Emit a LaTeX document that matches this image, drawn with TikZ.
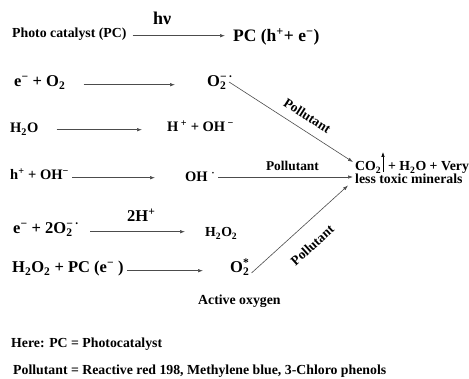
\documentclass[tikz,border=0pt]{standalone}
\usepackage{fontspec}
\setmainfont{Liberation Serif}
\usetikzlibrary{arrows.meta,calc}
\newcommand\fsS{\fontsize{13.8}{14}\selectfont\bfseries}
\newcommand\fsM{\fontsize{14.5}{15}\selectfont\bfseries}
\newcommand\fsL{\fontsize{16.5}{17}\selectfont\bfseries}
\newcommand\fsPC{\fontsize{17.5}{18}\selectfont\bfseries}
\newcommand\fsH{\fontsize{18}{19}\selectfont\bfseries}
\newcommand\fsP{\fontsize{13.4}{14}\selectfont\bfseries}
\newcommand\subsup[2]{\makebox[0pt][l]{\textsubscript{#1}}\textsuperscript{#2}}
\newcommand\upar{\tikz[baseline=0pt]\draw[line width=0.6pt,-{Latex[length=5pt,width=3.5pt]}] (0pt,-1pt) -- (0pt,19pt);}
\begin{document}
\begin{tikzpicture}[x=1pt,y=-1pt,
  txt/.style={inner sep=0pt, anchor=base west, text=black},
  arr/.style={draw=black!70, line width=0.6pt, -{Latex[length=5pt,width=3.5pt]}},
  lbl/.style={inner sep=0pt, font=\fsP, text=black}]
\useasboundingbox (0,0) rectangle (469,379);
% row 1
\node[txt,font=\fsS] (pc) at (12,38) {Photo catalyst (PC)};
\node[txt,font=\fsPC] (pch) at (233,42) {PC (h\textsuperscript{+}+ e\textsuperscript{−})};
\node[txt,font=\fsH] (hv) at (153,25) {hν};
\draw[arr] ($(pc.mid east)+(6,0)$) -- ($(pc.mid east -| pch.west)+(-8,0)$);
% row 2
\node[txt,font=\fsL] (e1) at (14,87) {e\textsuperscript{−} + O\textsubscript{2}};
\node[txt,font=\fsL] (o2r) at (207,87) {O\subsup{2}{−\,·}};
\draw[arr] ($(e1.mid east)+(18,0)$) -- ($(e1.mid east -| o2r.west)+(-32,0)$);
% row 3
\node[txt,font=\fsM] (h2o) at (10,133) {H\textsubscript{2}O};
\node[txt,font=\fsM] (hoh) at (167,132) {H\,\textsuperscript{+} + OH\,\textsuperscript{−}};
\draw[arr] ($(h2o.mid east)+(18,-1)$) -- ($(h2o.mid east -| hoh.west)+(-25,-1)$);
% row 4
\node[txt,font=\fsM] (hoh2) at (10,180) {h\textsuperscript{+} + OH\textsuperscript{−}};
\node[txt,font=\fsM] (oh) at (185,182) {OH \textsuperscript{·}};
\draw[arr] ($(hoh2.mid east)+(3,0)$) -- ($(hoh2.mid east -| oh.west)+(-30,0)$);
% row 5
\node[txt,font=\fsL] (e2) at (13,234) {e\textsuperscript{−} + 2O\subsup{2}{−\,·}};
\node[txt,font=\fsL] (h2p) at (127,222) {2H\textsuperscript{+}};
\node[txt,font=\fsS] (h2o2) at (205,237) {H\textsubscript{2}O\textsubscript{2}};
\draw[arr] ($(e2.mid east)+(11,0)$) -- ($(e2.mid east -| h2o2.west)+(-20,0)$);
% row 6
\node[txt,font=\fsL] (h2o2pc) at (12,273) {H\textsubscript{2}O\textsubscript{2} + PC (e\textsuperscript{−} )};
\node[txt,font=\fsL] (o2s) at (230,273) {O\subsup{2}{*}};
\draw[arr] ($(h2o2pc.mid east)+(3,0)$) -- ($(h2o2pc.mid east -| o2s.west)+(-27,0)$);
\node[txt,font=\fsS] (act) at (198,305) {Active oxygen};
% products
\node[txt,font=\fsS] (co2a) at (355,171) {CO\textsubscript{2}\upar{} + H\textsubscript{2}O + Very};
\node[txt,font=\fsS] (co2b) at (355,183.5) {less toxic minerals};
% connectors to products
\draw[arr] ($(o2r.base east)+(-4,-5)$) -- node[lbl, pos=0.57, sloped, above=9pt] {Pollutant} ($(co2a.base west)+(-2,-9)$);
\draw[arr] ($(oh.base east)+(3,-5)$) -- node[lbl, pos=0.55, above=6pt] {Pollutant} ($(co2a.base west)+(-2,6)$);
\draw[arr] ($(o2s.base east)+(2,0)$) -- node[lbl, pos=0.49, sloped, below=15pt] {Pollutant} ($(co2b.base west)+(-7,2)$);
% legend
\node[txt,font=\fsS] (here) at (11,348) {Here: PC = Photocatalyst};
\node[txt,font=\fsS] (poll) at (13,375) {Pollutant = Reactive red 198, Methylene blue, 3-Chloro phenols};
\end{tikzpicture}
\end{document}
